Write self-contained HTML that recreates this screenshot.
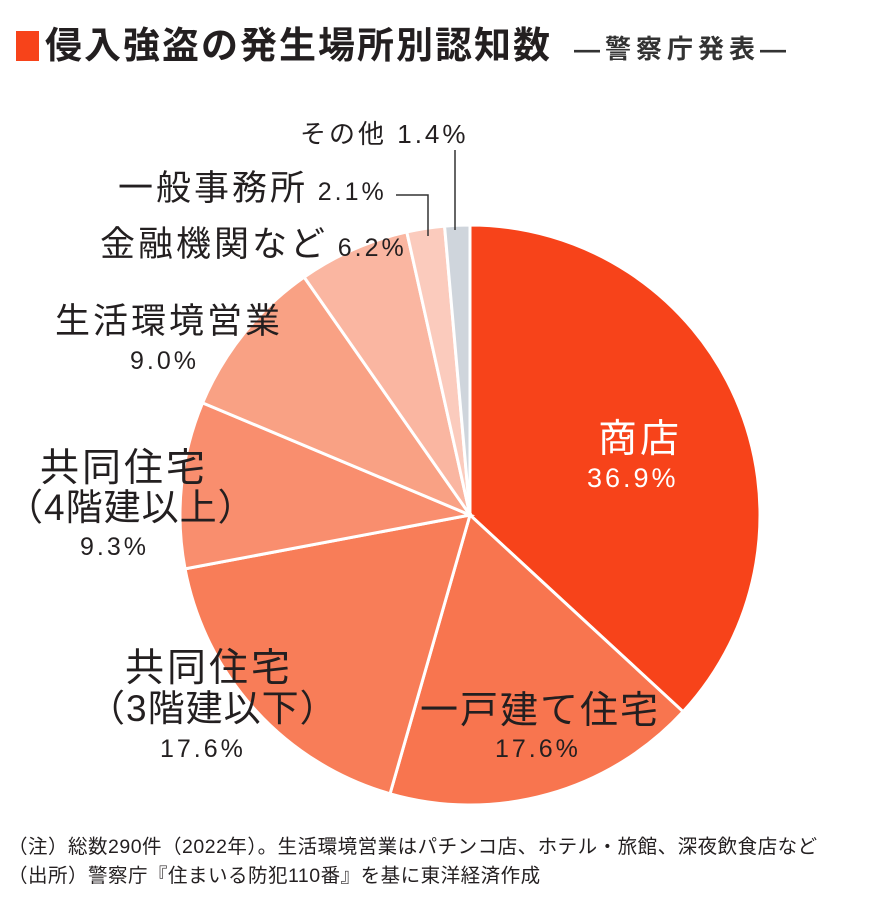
<!DOCTYPE html>
<html><head><meta charset="utf-8"><style>
html,body{margin:0;padding:0;background:#fff}
body{width:870px;height:916px;position:relative;overflow:hidden;font-family:"Liberation Sans","Noto Sans CJK JP",sans-serif;color:#231f20}
.t{position:absolute;white-space:nowrap;line-height:1}
.j{letter-spacing:3px}
.n{letter-spacing:3px}
</style></head><body>
<div style="position:absolute;left:16px;top:31px;width:23px;height:30px;background:#f7431a"></div>
<div class="t" style="left:45px;top:27px;font-size:37px;font-weight:bold;letter-spacing:2px">侵入強盗の発生場所別認知数</div>
<div class="t" style="left:574px;top:36px;font-size:26px;font-weight:bold;color:#333;letter-spacing:5px">―警察庁発表―</div>
<svg id="pie" width="870" height="916" style="position:absolute;left:0;top:0"></svg>
<div class="t" style="left:300px;top:121px;font-size:26px;letter-spacing:3px">その他 <span class="n">1.4%</span></div>
<div class="t" style="left:118px;top:171px;font-size:35px"><span class="j">一般事務所</span> <span class="n" style="font-size:25px">2.1%</span></div>
<div class="t" style="left:100px;top:227px;font-size:35px"><span class="j">金融機関など</span> <span class="n" style="font-size:25px">6.2%</span></div>
<div class="t j" style="left:55px;top:304px;font-size:35px">生活環境営業</div>
<div class="t n" style="left:130px;top:349px;font-size:25px">9.0%</div>
<div class="t" style="left:40px;top:449px;font-size:39px;letter-spacing:3px">共同住宅</div>
<div class="t" style="left:6px;top:489px;font-size:37px;letter-spacing:1px">（4階建以上）</div>
<div class="t n" style="left:80px;top:535px;font-size:25px">9.3%</div>
<div class="t" style="left:125px;top:649px;font-size:39px;letter-spacing:3px">共同住宅</div>
<div class="t" style="left:88px;top:690px;font-size:37px;letter-spacing:1px">（3階建以下）</div>
<div class="t n" style="left:160px;top:737px;font-size:25px">17.6%</div>
<div class="t" style="left:420px;top:692px;font-size:38px;letter-spacing:2px">一戸建て住宅</div>
<div class="t n" style="left:495px;top:737px;font-size:25px">17.6%</div>
<div class="t" style="left:598px;top:420px;font-size:39px;color:#fff;letter-spacing:3px">商店</div>
<div class="t n" style="left:587px;top:465px;font-size:27px;color:#fff">36.9%</div>
<div class="t" style="left:8px;top:838px;font-size:19.5px;letter-spacing:0.5px">（注）総数290件（2022年）。生活環境営業はパチンコ店、ホテル・旅館、深夜飲食店など</div>
<div class="t" style="left:8px;top:867px;font-size:19.5px;letter-spacing:0.5px">（出所）警察庁『住まいる防犯110番』を基に東洋経済作成</div>
<script>
var d=[[36.9,"#f7431a"],[17.6,"#f8754f"],[17.6,"#f87d58"],[9.3,"#f98e6e"],[9.0,"#f9a184"],[6.2,"#fab6a1"],[2.1,"#fbcbbd"],[1.4,"#cfd5dc"]];
var cx=470,cy=515,r=290,a=0,s="",tot=100.1;
d.forEach(function(e){var b=a+e[0]/tot*2*Math.PI;
var x1=cx+r*Math.sin(a),y1=cy-r*Math.cos(a),x2=cx+r*Math.sin(b),y2=cy-r*Math.cos(b);
s+='<path d="M'+cx+','+cy+' L'+x1+','+y1+' A'+r+','+r+' 0 '+((b-a)>Math.PI?1:0)+' 1 '+x2+','+y2+' Z" fill="'+e[1]+'" stroke="#fff" stroke-width="3"/>';a=b;});
s+='<polyline points="455,150 455,230" fill="none" stroke="#333" stroke-width="1.5"/>';
s+='<polyline points="396,195 428,195 428,236" fill="none" stroke="#333" stroke-width="1.5"/>';
document.getElementById("pie").innerHTML=s;
</script>
</body></html>
